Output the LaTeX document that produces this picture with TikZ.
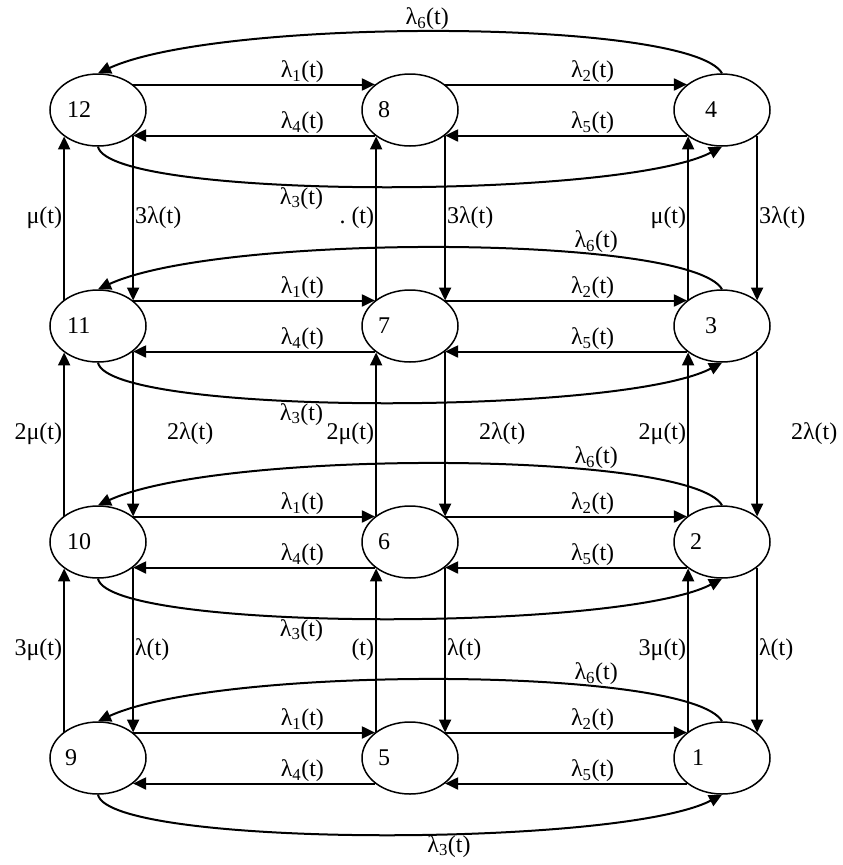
\documentclass[tikz,border=0pt]{standalone}
\usepackage{fontspec}
\setmainfont{Liberation Serif}
\usetikzlibrary{arrows.meta,shapes.geometric}
\tikzset{
  state/.style={draw,ellipse,line width=1.5pt,minimum width=96pt,minimum height=72pt,inner sep=0pt},
  num/.style={anchor=west,inner sep=0pt},
  trans/.style={line width=2pt,-{Triangle[length=13pt,width=12pt]}},
  rate/.style={inner sep=1pt}
}
\begin{document}
\begin{tikzpicture}
			[x=1pt,y=-1pt,font=\fontsize{24}{28}\selectfont]
			\useasboundingbox (0,0) rectangle (843,865);
			\node[state] (s12) at (98,110) {};
			\node[state] (s8) at (410,110) {};
			\node[state] (s4) at (722,110) {};
			\node[state] (s11) at (98,326) {};
			\node[state] (s7) at (410,326) {};
			\node[state] (s3) at (722,326) {};
			\node[state] (s10) at (98,542) {};
			\node[state] (s6) at (410,542) {};
			\node[state] (s2) at (722,542) {};
			\node[state] (s9) at (98,758) {};
			\node[state] (s5) at (410,758) {};
			\node[state] (s1) at (722,758) {};
			\node[num] (n12) at ([xshift=-31pt]s12.center) {12};
			\node[num] (n8) at ([xshift=-32pt]s8.center) {8};
			\node[num] (n4) at ([xshift=-17pt]s4.center) {4};
			\node[num] (n11) at ([xshift=-31pt]s11.center) {11};
			\node[num] (n7) at ([xshift=-32pt]s7.center) {7};
			\node[num] (n3) at ([xshift=-17pt]s3.center) {3};
			\node[num] (n10) at ([xshift=-31pt]s10.center) {10};
			\node[num] (n6) at ([xshift=-32pt]s6.center) {6};
			\node[num] (n2) at ([xshift=-32pt]s2.center) {2};
			\node[num] (n9) at ([xshift=-33pt]s9.center) {9};
			\node[num] (n5) at ([xshift=-32pt]s5.center) {5};
			\node[num] (n1) at ([xshift=-30pt]s1.center) {1};
			% row 12-8-4
			\draw[trans] (s12.36) -- node[rate,above,pos=.7] {λ\textsubscript{1}(t)} (s8.144);
			\draw[trans] (s8.216) -- node[rate,above,pos=.3] {λ\textsubscript{4}(t)} (s12.-36);
			\draw[trans] (s8.36) -- node[rate,above,pos=.61] {λ\textsubscript{2}(t)} (s4.144);
			\draw[trans] (s4.216) -- node[rate,above,pos=.39] {λ\textsubscript{5}(t)} (s8.-36);
			\draw[trans] (s4.north) .. controls +(-32,-55) and +(122,-56) .. node[rate,above,pos=.52] {λ\textsubscript{6}(t)} (s12.north);
			\draw[trans] (s12.south) .. controls +(12,53) and +(-102,53) .. node[rate,below,pos=.41] {λ\textsubscript{3}(t)} (s4.south);
			% row 11-7-3
			\draw[trans] (s11.36) -- node[rate,above,pos=.7] {λ\textsubscript{1}(t)} (s7.144);
			\draw[trans] (s7.216) -- node[rate,above,pos=.3] {λ\textsubscript{4}(t)} (s11.-36);
			\draw[trans] (s7.36) -- node[rate,above,pos=.61] {λ\textsubscript{2}(t)} (s3.144);
			\draw[trans] (s3.216) -- node[rate,above,pos=.39] {λ\textsubscript{5}(t)} (s7.-36);
			\draw[trans] (s3.north) .. controls +(-32,-55) and +(122,-56) .. node[rate,above,pos=.3] {λ\textsubscript{6}(t)} (s11.north);
			\draw[trans] (s11.south) .. controls +(12,53) and +(-102,53) .. node[rate,below,pos=.41] {λ\textsubscript{3}(t)} (s3.south);
			% row 10-6-2
			\draw[trans] (s10.36) -- node[rate,above,pos=.7] {λ\textsubscript{1}(t)} (s6.144);
			\draw[trans] (s6.216) -- node[rate,above,pos=.3] {λ\textsubscript{4}(t)} (s10.-36);
			\draw[trans] (s6.36) -- node[rate,above,pos=.61] {λ\textsubscript{2}(t)} (s2.144);
			\draw[trans] (s2.216) -- node[rate,above,pos=.39] {λ\textsubscript{5}(t)} (s6.-36);
			\draw[trans] (s2.north) .. controls +(-32,-55) and +(122,-56) .. node[rate,above,pos=.3] {λ\textsubscript{6}(t)} (s10.north);
			\draw[trans] (s10.south) .. controls +(12,53) and +(-102,53) .. node[rate,below,pos=.41] {λ\textsubscript{3}(t)} (s2.south);
			% row 9-5-1
			\draw[trans] (s9.36) -- node[rate,above,pos=.7] {λ\textsubscript{1}(t)} (s5.144);
			\draw[trans] (s5.216) -- node[rate,above,pos=.3] {λ\textsubscript{4}(t)} (s9.-36);
			\draw[trans] (s5.36) -- node[rate,above,pos=.61] {λ\textsubscript{2}(t)} (s1.144);
			\draw[trans] (s1.216) -- node[rate,above,pos=.39] {λ\textsubscript{5}(t)} (s5.-36);
			\draw[trans] (s1.north) .. controls +(-32,-55) and +(122,-56) .. node[rate,above,pos=.3] {λ\textsubscript{6}(t)} (s9.north);
			\draw[trans] (s9.south) .. controls +(12,53) and +(-102,53) .. node[rate,below,pos=.585] {λ\textsubscript{3}(t)} (s1.south);
			% columns
			\draw[trans] (s11.142) -- node[rate,left] {μ(t)} (s12.218);
			\draw[trans] (s12.-36) -- node[rate,right] {3λ(t)} (s11.36);
			\draw[trans] (s10.142) -- node[rate,left] {2μ(t)} (s11.218);
			\draw[trans] (s11.-36) -- node[rate,right,xshift=32pt] {2λ(t)} (s10.36);
			\draw[trans] (s9.142) -- node[rate,left] {3μ(t)} (s10.218);
			\draw[trans] (s10.-36) -- node[rate,right] {λ(t)} (s9.36);
			\draw[trans] (s7.142) -- node[rate,left] {.\hspace{6pt}(t)} (s8.218);
			\draw[trans] (s8.-36) -- node[rate,right] {3λ(t)} (s7.36);
			\draw[trans] (s6.142) -- node[rate,left] {2μ(t)} (s7.218);
			\draw[trans] (s7.-36) -- node[rate,right,xshift=32pt] {2λ(t)} (s6.36);
			\draw[trans] (s5.142) -- node[rate,left] {(t)} (s6.218);
			\draw[trans] (s6.-36) -- node[rate,right] {λ(t)} (s5.36);
			\draw[trans] (s3.142) -- node[rate,left] {μ(t)} (s4.218);
			\draw[trans] (s4.-36) -- node[rate,right] {3λ(t)} (s3.36);
			\draw[trans] (s2.142) -- node[rate,left] {2μ(t)} (s3.218);
			\draw[trans] (s3.-36) -- node[rate,right,xshift=32pt] {2λ(t)} (s2.36);
			\draw[trans] (s1.142) -- node[rate,left] {3μ(t)} (s2.218);
			\draw[trans] (s2.-36) -- node[rate,right] {λ(t)} (s1.36);
		\end{tikzpicture}
\end{document}
